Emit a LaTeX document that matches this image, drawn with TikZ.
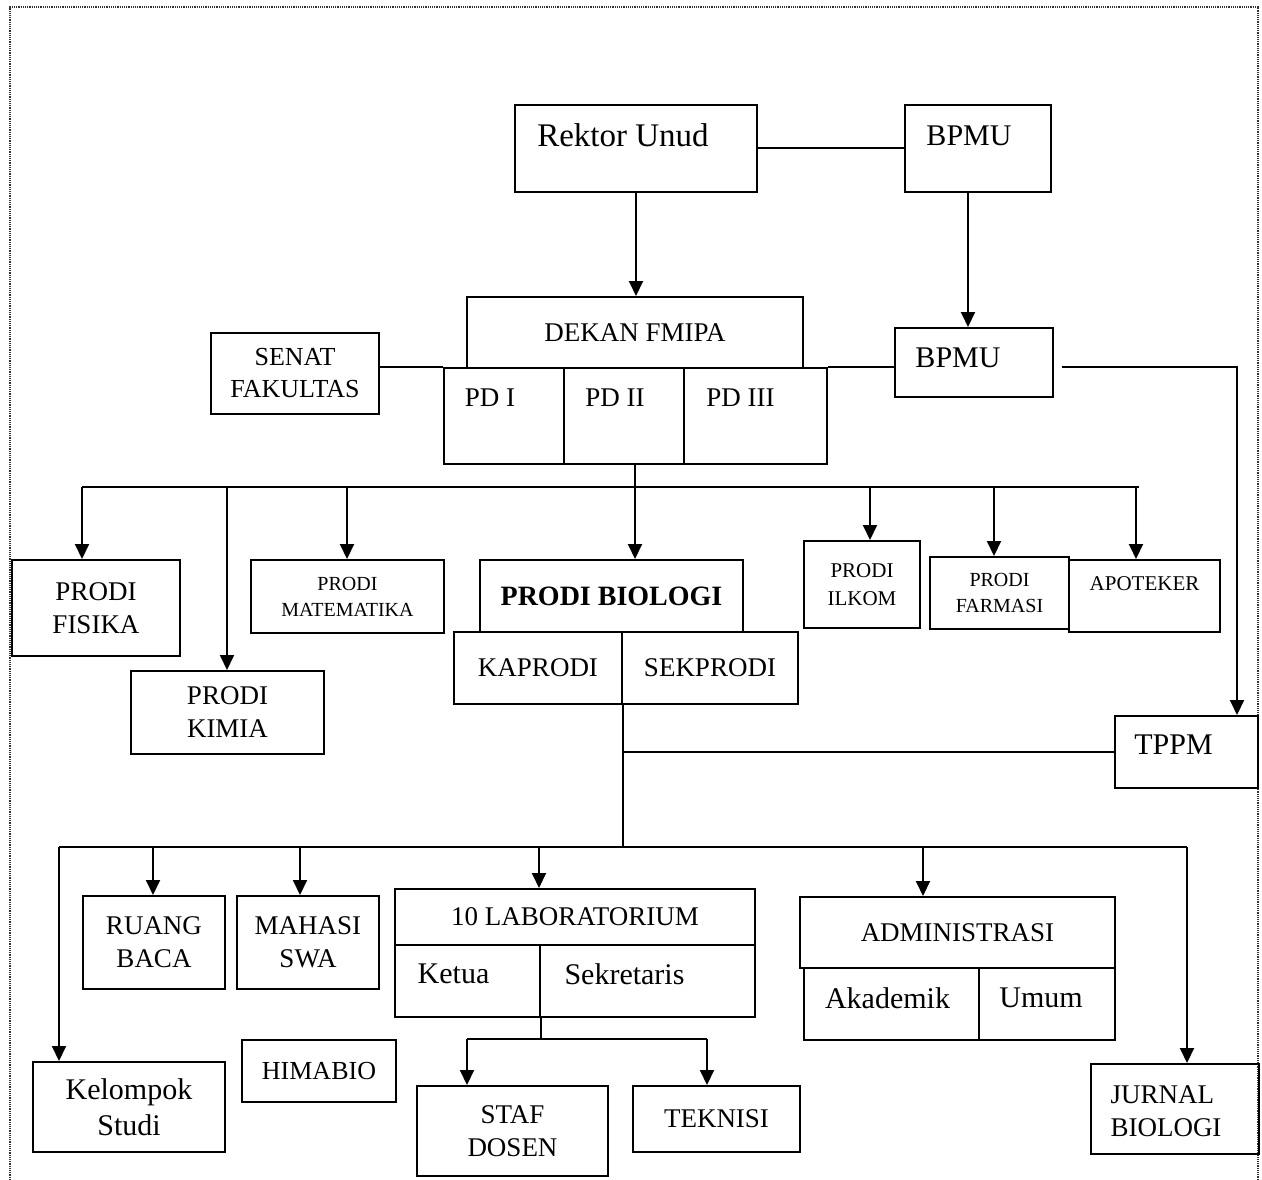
\documentclass[tikz,border=0pt]{standalone}
\usepackage{fontspec}
\setmainfont{Liberation Serif}
\usetikzlibrary{arrows.meta, positioning}

\begin{document}
\begin{tikzpicture}[x=1pt, y=-1pt,
    box/.style={draw, line width=2pt, inner sep=0pt, anchor=north west, align=center, font=\fontsize{27}{33}\selectfont},
    lbl/.style={inner sep=0pt, align=center, font=\fontsize{27}{33}\selectfont},
    small/.style={font=\fontsize{21}{28}\selectfont},
    lower/.style={font=\fontsize{30}{36}\selectfont},
    arr/.style={line width=2pt, -{Triangle[length=15pt,width=14pt]}},
    link/.style={line width=2pt}]
  \useasboundingbox (0,0) rectangle (1262,1180);
  % dotted frame
  \draw[densely dotted, line width=1.2pt, black!80] (10,1180) -- (10,7) -- (1258,7) -- (1258,1180);

  % top level
  \node[box, minimum width=242, minimum height=87,
        label={[lbl, xshift=-13pt, yshift=13pt, font=\fontsize{33}{38}\selectfont]center:Rektor Unud}] (rektor) at (514,104) {};
  \node[box, minimum width=146, minimum height=87,
        label={[lbl, xshift=-9pt, yshift=13pt, font=\fontsize{30}{36}\selectfont]center:BPMU}] (bpmu) at (904,104) {};

  % faculty level
  \node[box, minimum width=336, minimum height=71] (dekan) at (466,296) {DEKAN FMIPA};
  \node[box, minimum width=120, minimum height=96,
        label={[lbl, xshift=-14pt, yshift=18pt]center:PD I}] (pd1) at (443,367) {};
  \node[box, minimum width=120, minimum height=96,
        label={[lbl, xshift=-9pt, yshift=18pt]center:PD II}] (pd2) at (563,367) {};
  \node[box, minimum width=143, minimum height=96,
        label={[lbl, xshift=-15pt, yshift=18pt]center:PD III}] (pd3) at (683,367) {};
  \node[box, minimum width=168, minimum height=81, font=\fontsize{26}{32}\selectfont] (senat) at (210,332) {SENAT\\FAKULTAS};
  \node[box, minimum width=158, minimum height=69,
        label={[lbl, xshift=-16pt, yshift=5pt, font=\fontsize{30}{36}\selectfont]center:BPMU}] (bpmu2) at (894,327) {};
  \node[box, minimum width=143, minimum height=72,
        label={[lbl, xshift=-13pt, yshift=7pt, font=\fontsize{30}{36}\selectfont]center:TPPM}] (tppm) at (1114,715) {};

  % study programmes
  \node[box, minimum width=168, minimum height=96] (fisika) at (11,559) {PRODI\\FISIKA};
  \node[box, minimum width=193, minimum height=83] (kimia) at (130,670) {PRODI\\KIMIA};
  \node[box, minimum width=193, minimum height=73, font=\fontsize{20}{26}\selectfont] (matematika) at (250,559) {PRODI\\MATEMATIKA};
  \node[box, minimum width=263, minimum height=72, font=\bfseries\fontsize{28}{33}\selectfont] (biologi) at (479,559) {PRODI BIOLOGI};
  \node[box, minimum width=168, minimum height=72] (kaprodi) at (453,631) {KAPRODI};
  \node[box, minimum width=176, minimum height=72] (sekprodi) at (621,631) {SEKPRODI};
  \node[box, small, minimum width=116, minimum height=87] (ilkom) at (803,540) {PRODI\\ILKOM};
  \node[box, minimum width=139, minimum height=72, font=\fontsize{20}{26}\selectfont] (farmasi) at (929,556) {PRODI\\FARMASI};
  \node[box, minimum width=151, minimum height=72,
        label={[lbl, small, yshift=12pt]center:APOTEKER}] (apoteker) at (1068,559) {};

  % units of the programme
  \node[box, minimum width=192, minimum height=90, lower] (kelompok) at (32,1061) {Kelompok\\Studi};
  \node[box, minimum width=142, minimum height=93] (ruang) at (82,895) {RUANG\\BACA};
  \node[box, minimum width=142, minimum height=93] (mahasiswa) at (236,895) {MAHASI\\SWA};
  \node[box, minimum width=154, minimum height=62, font=\fontsize{26}{32}\selectfont] (himabio) at (241,1039) {HIMABIO};
  \node[box, minimum width=360, minimum height=56] (lab) at (394,888) {10 LABORATORIUM};
  \node[box, minimum width=145, minimum height=72,
        label={[lbl, lower, xshift=-14pt, yshift=7pt]center:Ketua}] (ketua) at (394,944) {};
  \node[box, minimum width=215, minimum height=72,
        label={[lbl, lower, xshift=-23pt, yshift=7pt]center:Sekretaris}] (sekretaris) at (539,944) {};
  \node[box, minimum width=191, minimum height=90] (staf) at (416,1085) {STAF\\DOSEN};
  \node[box, minimum width=167, minimum height=66] (teknisi) at (632,1085) {TEKNISI};
  \node[box, minimum width=315, minimum height=71] (admin) at (799,896) {ADMINISTRASI};
  \node[box, minimum width=175, minimum height=72,
        label={[lbl, lower, xshift=-4pt, yshift=6pt]center:Akademik}] (akademik) at (803,967) {};
  \node[box, minimum width=136, minimum height=72,
        label={[lbl, lower, xshift=-6pt, yshift=6pt]center:Umum}] (umum) at (978,967) {};
  \node[box, minimum width=168, minimum height=90,
        label={[lbl, align=left, xshift=-9pt, yshift=-2pt]center:JURNAL\\BIOLOGI}] (jurnal) at (1090,1063) {};

  % connectors at the top
  \draw[link] (rektor.east) -- (bpmu.west);
  \draw[arr] (rektor.south) -- (rektor.south |- dekan.north);
  \draw[arr] ([xshift=-10pt]bpmu.south) -- ([xshift=-10pt]bpmu.south |- bpmu2.north);
  \draw[link] (senat.east |- pd1.north west) -- (pd1.north west);
  \draw[link] (pd3.north east) -- (pd3.north east -| bpmu2.west);
  \coordinate (bp-out) at (1062,367);
  \draw[arr] (bp-out) -| ([xshift=50.5pt]tppm.north);

  % bus to the study programmes
  \coordinate (pd-out) at (dekan.south |- pd2.south);
  \coordinate (busL) at (82,487);
  \coordinate (busR) at (1139,487);
  \draw[link] (busL) -- (busR);
  \draw[arr] (pd-out) -- (pd-out |- biologi.north);
  \foreach \n/\x in {fisika/82, kimia/227, matematika/347, ilkom/870, farmasi/994, apoteker/1136}
    \draw[arr] (\x,487) -- (\x,487 |- \n.north);

  % bus to the units
  \coordinate (lbusL) at (59,847);
  \coordinate (lbusR) at (1187,847);
  \draw[link] (kaprodi.south east) -- (kaprodi.south east |- lbusL);
  \draw[link] (tppm.west -| kaprodi.south east) -- (tppm.west);
  \draw[link] (lbusL) -- (lbusR);
  \foreach \n/\x in {kelompok/59, ruang/153, mahasiswa/300, lab/539, admin/923, jurnal/1187}
    \draw[arr] (\x,847) -- (\x,847 |- \n.north);

  % laboratory staff
  \coordinate (s1) at (467,1039);
  \coordinate (s2) at (707,1039);
  \draw[link] (ketua.south east) -- (ketua.south east |- s1);
  \draw[link] (s1) -- (s2);
  \draw[arr] (s1) -- (s1 |- staf.north);
  \draw[arr] (s2) -- (s2 |- teknisi.north);
\end{tikzpicture}
\end{document}
